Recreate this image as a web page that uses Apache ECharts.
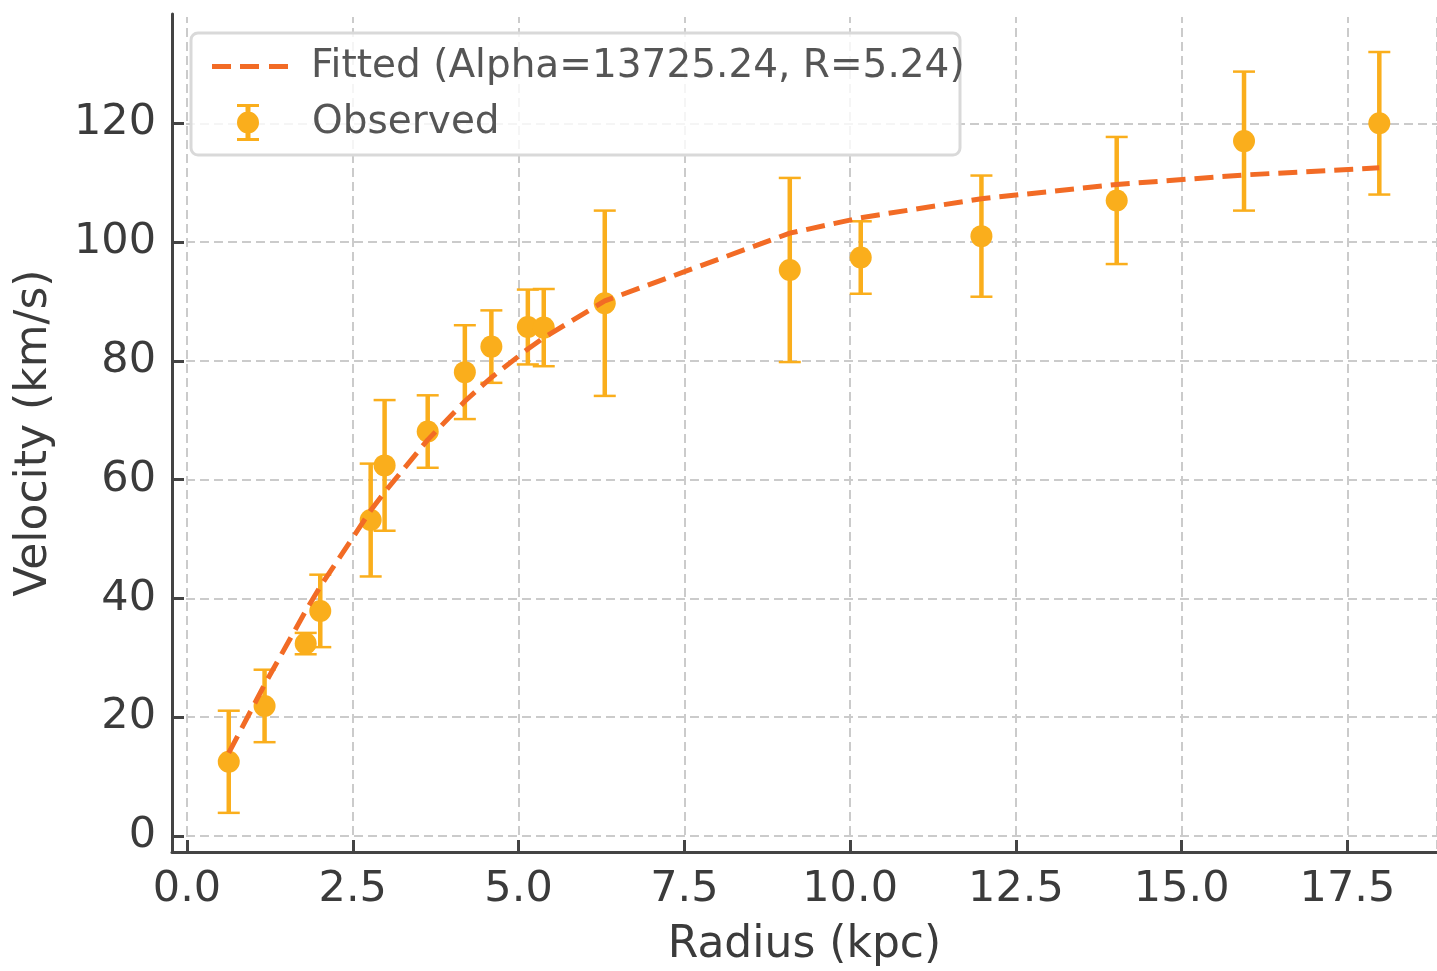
<!DOCTYPE html>
<html>
<head>
<meta charset="utf-8">
<script src="https://cdn.jsdelivr.net/npm/echarts@6/dist/echarts.min.js"></script>
<style>html,body{margin:0;padding:0;background:#fff;}#c{width:1437px;height:971px;}</style>
</head>
<body>
<div id="c"></div>
<script>
const radius   = [0.63, 1.17, 1.79, 2.01, 2.77, 2.98, 3.63, 4.19, 4.59, 5.14, 5.38, 6.30, 9.09, 10.16, 11.98, 14.02, 15.94, 17.98];
const velocity = [12.5, 21.9, 32.4, 37.9, 53.2, 62.4, 68.1, 78.1, 82.4, 85.7, 85.6, 89.7, 95.3, 97.4, 101.0, 107.0, 117.0, 120.0];
const errors   = [8.6, 6.1, 1.8, 6.1, 9.5, 11.0, 6.1, 7.9, 6.1, 6.3, 6.5, 15.6, 15.5, 6.1, 10.2, 10.7, 11.7, 12.0];
const fitted   = [14.0, 25.5, 37.9, 42.0, 54.8, 57.9, 66.7, 73.2, 77.2, 82.0, 83.9, 90.1, 101.5, 104.1, 107.3, 109.7, 111.3, 112.5];
const fitName = 'Fitted (Alpha=13725.24, R=5.24)';
const obsName = 'Observed';

const ORANGE = '#FAAE1C';
const RED = '#F26B25';
const FONT = 'DejaVu Sans';

const chart = echarts.init(document.getElementById('c'), null, {renderer: 'canvas'});

const obsData = radius.map((r, i) => [r, velocity[i], errors[i]]);
const fitData = radius.map((r, i) => [r, fitted[i]]);

const gridLine = {show: true, lineStyle: {color: '#cbcbcb', width: 2, type: [9, 5]}};

const option = {
  animation: false,
  backgroundColor: '#fff',
  grid: {left: 172, right: 0, top: 14, bottom: 119, containLabel: false, outerBoundsMode: 'none'},
  xAxis: {
    type: 'value', min: -0.226, max: 18.85, minInterval: 2.5, maxInterval: 2.5, splitNumber: 8,
    name: 'Radius (kpc)', nameLocation: 'middle', nameGap: 72,
    nameTextStyle: {fontFamily: FONT, fontSize: 44, color: '#3b3b3b'},
    axisLine: {show: true, onZero: false, lineStyle: {color: '#444', width: 3}},
    axisTick: {show: true, inside: true, length: 12, lineStyle: {color: '#444', width: 3}},
    axisLabel: {fontFamily: FONT, fontSize: 43, color: '#3b3b3b', margin: 16, showMinLabel: false, showMaxLabel: false,
      formatter: v => v.toFixed(1)},
    splitLine: gridLine
  },
  yAxis: {
    type: 'value', min: -2.69, max: 138.4, minInterval: 20, maxInterval: 20, splitNumber: 7,
    name: 'Velocity (km/s)', nameLocation: 'middle', nameGap: 115, nameRotate: 90,
    nameTextStyle: {fontFamily: FONT, fontSize: 44, color: '#3b3b3b'},
    axisLine: {show: true, onZero: false, lineStyle: {color: '#444', width: 3}},
    axisTick: {show: true, inside: true, length: 12, lineStyle: {color: '#444', width: 3}},
    axisLabel: {fontFamily: FONT, fontSize: 43, color: '#3b3b3b', margin: 16, showMinLabel: false, showMaxLabel: false,
      formatter: v => String(Math.round(v))},
    splitLine: gridLine
  },
  graphic: [
    {
      type: 'rect', z: 1, silent: true, shape: {x: 174, y: 11, width: 1263, height: 6},
      style: {fill: '#ffffff'}
    },
    {
      type: 'rect', z: 3, shape: {x: 191, y: 33, width: 769, height: 122, r: 7},
      style: {fill: 'rgba(255,255,255,0.8)', stroke: '#d9d9d9', lineWidth: 3}
    }
  ],
  legend: [
    {
      data: [{name: fitName, icon: 'path://M0,0H19V5H0Z M28,0H47V5H28Z M57,0H76V5H57Z', itemStyle: {color: RED}}],
      left: 207, top: 42, z: 5,
      itemWidth: 76, itemHeight: 5, itemGap: 0,
      textStyle: {fontFamily: FONT, fontSize: 39, color: '#555', padding: [0, 0, 0, 18]}
    },
    {
      data: [{name: obsName, icon: 'path://M0,0H22V3H0Z M8.5,3H13.5V34H8.5Z M0,34H22V37H0Z M22,18.5A11,11 0 1 1 0,18.5A11,11 0 1 1 22,18.5Z'}],
      left: 232, top: 98, z: 5,
      itemWidth: 22, itemHeight: 37, itemGap: 0,
      itemStyle: {color: ORANGE},
      textStyle: {fontFamily: FONT, fontSize: 39, color: '#555', padding: [0, 0, 0, 48]}
    }
  ],
  series: [
    {
      name: obsName, type: 'custom', z: 2,
      data: obsData, encode: {x: 0, y: 1},
      itemStyle: {color: ORANGE},
      renderItem: function (params, api) {
        const x = api.value(0), y = api.value(1), e = api.value(2);
        const top = api.coord([x, y + e]);
        const bot = api.coord([x, y - e]);
        const hw = 11;
        return {
          type: 'group',
          children: [
            {type: 'line', shape: {x1: top[0], y1: top[1], x2: bot[0], y2: bot[1]}, style: {stroke: ORANGE, lineWidth: 4.5}},
            {type: 'line', shape: {x1: top[0] - hw, y1: top[1], x2: top[0] + hw, y2: top[1]}, style: {stroke: ORANGE, lineWidth: 2.5}},
            {type: 'line', shape: {x1: bot[0] - hw, y1: bot[1], x2: bot[0] + hw, y2: bot[1]}, style: {stroke: ORANGE, lineWidth: 2.5}}
          ]
        };
      }
    },
    {
      name: obsName, type: 'scatter', z: 3,
      data: obsData.map(d => [d[0], d[1]]),
      symbol: 'circle', symbolSize: 22,
      itemStyle: {color: ORANGE, opacity: 1}
    },
    {
      name: fitName, type: 'line', z: 4,
      data: fitData, symbol: 'none', showSymbol: false, smooth: false,
      lineStyle: {color: RED, width: 5, type: [19, 9]},
      itemStyle: {color: RED}
    }
  ]
};
chart.setOption(option);
</script>
</body>
</html>
